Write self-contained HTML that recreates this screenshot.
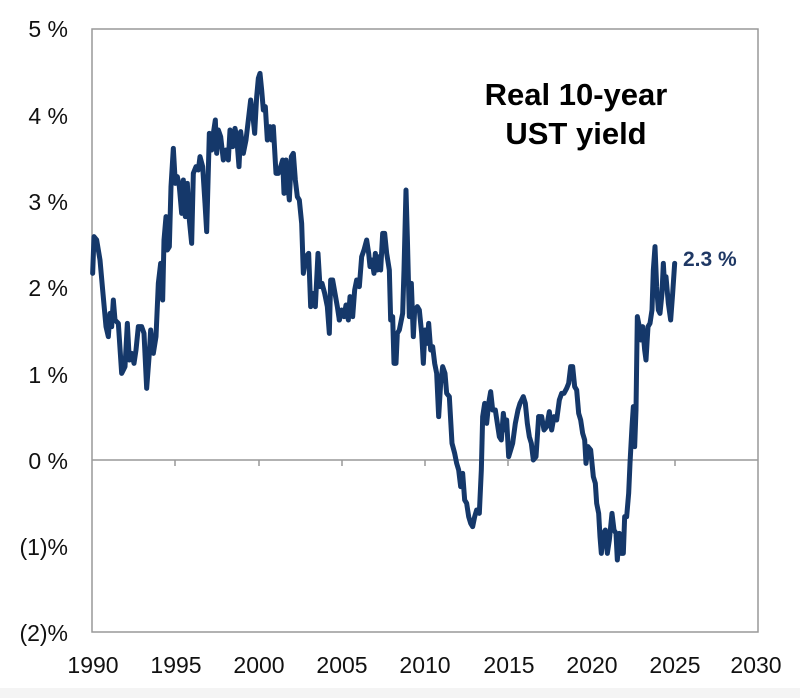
<!DOCTYPE html>
<html><head><meta charset="utf-8"><style>
html,body{margin:0;padding:0;background:#fff;}
svg{display:block;font-family:"Liberation Sans",Arial,sans-serif;}
</style></head><body>
<svg width="800" height="698" viewBox="0 0 800 698">
<rect x="0" y="0" width="800" height="698" fill="#fff"/>
<rect x="0" y="688" width="800" height="10" fill="#f4f4f4"/>
<rect x="92" y="29" width="666" height="603" fill="none" stroke="#999" stroke-width="1.5"/>
<line x1="92" y1="460" x2="758" y2="460" stroke="#999" stroke-width="1.5"/>
<g stroke="#999" stroke-width="1.5">
<line x1="175" y1="460" x2="175" y2="466"/><line x1="259" y1="460" x2="259" y2="466"/><line x1="342" y1="460" x2="342" y2="466"/><line x1="425" y1="460" x2="425" y2="466"/><line x1="508" y1="460" x2="508" y2="466"/><line x1="592" y1="460" x2="592" y2="466"/><line x1="675" y1="460" x2="675" y2="466"/>
</g>
<g font-size="23" fill="#111" text-anchor="end">
<text x="68" y="37">5 %</text><text x="68" y="124">4 %</text><text x="68" y="210">3 %</text><text x="68" y="296">2 %</text><text x="68" y="383">1 %</text><text x="68" y="469">0 %</text><text x="68" y="555">(1)%</text><text x="68" y="641">(2)%</text>
</g>
<g font-size="23" fill="#111" text-anchor="middle">
<text x="93" y="673">1990</text><text x="176" y="673">1995</text><text x="259" y="673">2000</text><text x="342" y="673">2005</text><text x="425" y="673">2010</text><text x="509" y="673">2015</text><text x="592" y="673">2020</text><text x="675" y="673">2025</text><text x="756" y="673">2030</text>
</g>
<g font-size="31" font-weight="bold" fill="#000" text-anchor="middle">
<text x="576" y="105">Real 10-year</text><text x="576" y="144">UST yield</text>
</g>
<text x="683" y="266" font-size="21" font-weight="bold" fill="#1f3864">2.3 %</text>
<g fill="none" stroke="#15386a" stroke-width="5" stroke-linejoin="round" stroke-linecap="round">
<g transform="translate(90,60) scale(0.33333)"><polyline vector-effect="non-scaling-stroke" points="8,640 12,530 20,540 30,600 38,690 48,800 55,830 60,760 65,800 70,720 75,780 85,790 95,940 105,920 112,790 118,900 125,880 132,910 138,870 145,800 155,800 162,820 170,985 178,880 182,810 190,880 198,830 205,670 212,610 218,720 222,540 228,470 232,570 238,560 243,380 250,265 256,370 262,350 268,380 275,460 280,360 286,470 292,370 298,480 305,550 310,340 318,320 325,330 330,290 338,320 345,430 350,515 358,220 365,270 370,220 376,180 380,280 385,210 392,230 400,300 408,270 415,300 420,210 428,260 435,205 440,230 447,320 452,215 460,280 468,240 475,180 482,120 488,160 494,220 500,110 505,55 510,40 515,90 520,150 526,140 532,240 540,200 545,240 550,200 558,340 565,340 572,320 578,300 582,400 588,300 594,380 598,420 604,290 610,280 616,360 622,410 628,420 635,490 640,640 648,590 656,580 662,740 668,700 676,740 684,580 690,680 696,670 704,700 712,740 718,820 722,660 728,660 735,700 742,740 748,780"/></g>
<g transform="translate(290,170) scale(0.33333)"><polyline vector-effect="non-scaling-stroke" points="148,450 155,420 162,440 168,405 175,450 180,380 188,440 194,360 200,330 208,350 215,260 222,240 230,210 236,250 240,290 246,270 252,310 256,250 262,300 268,260 272,300 278,190 284,190 290,250 298,300 302,450 308,440 312,580 318,580 322,490 328,480 332,460 338,430 342,300 348,60 352,200 358,440 364,340 370,500 374,420 382,410 388,420 395,490 400,580 405,480 412,520 416,460 422,540 428,530 434,580 440,610 446,740 452,640 458,590 465,610 470,670 478,680 486,820 494,850 500,880 506,900 512,950 518,910 524,990 530,1000 536,1040 542,1060 548,1070 554,1040 560,1020 568,1030 574,900 578,740 584,700 590,760 596,700 602,665 608,720 616,720 622,760 628,800 634,810 640,730 646,780 650,750 656,860 662,840 668,820 676,760 684,720 690,700 700,680 706,700 712,760 718,800 724,820 730,870 738,860 746,740"/></g>
<g transform="translate(500,220) scale(0.33333)"><polyline vector-effect="non-scaling-stroke" points="116,590 125,590 132,630 140,620 148,575 155,630 162,590 170,600 178,540 185,520 192,520 200,505 206,490 212,440 218,440 224,500 230,510 236,580 242,600 248,640 254,660 258,730 264,680 272,690 280,770 286,790 290,850 296,880 300,950 304,1000 310,940 316,930 322,1000 328,960 336,880 342,930 348,940 352,1020 358,940 364,1000 370,1000 374,890 380,890 386,820 390,730 396,620 400,560 404,680 408,570 412,290 418,320 422,360 428,320 434,390 438,420 444,320 450,310 456,270 460,150 465,80 470,200 475,270 480,280 486,220 490,130 494,200 498,170 505,250 512,300 518,220 524,130"/></g>
</g>
</svg>
</body></html>
